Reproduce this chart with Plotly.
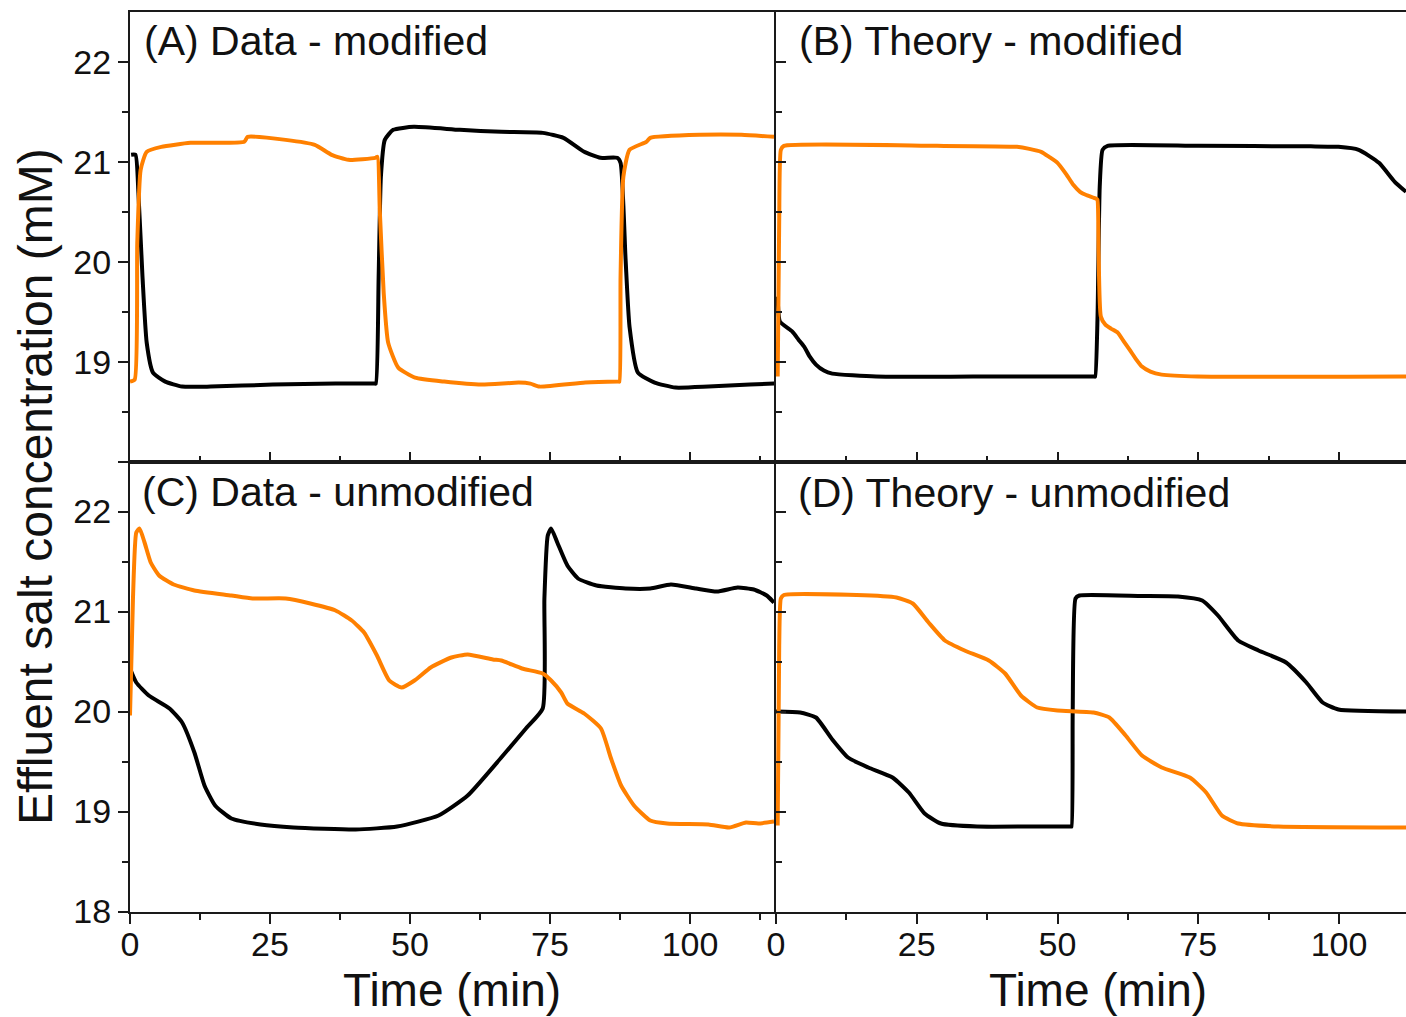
import plotly.graph_objects as go

W, H = 1406, 1017
ORANGE = "#FF8000"
BLACK = "#000000"
AX = "#1a1a1a"
FONT = "Liberation Sans, Arial, sans-serif"

# ---------------- data (time in min, concentration in mM) ----------------
# (A) Data - modified
a_black_t = [0.2, 0.98, 1.5, 2.23, 2.98, 4.1, 6.3, 9.3, 14.4, 25.5, 36.7, 43.6, 43.9, 44.4, 44.8, 45.5,
             47.0, 50.7, 58.9, 66.3, 73.7, 77.4, 81.1, 84.0, 87.0, 87.6, 88.5, 89.2, 90.7, 93.7, 97.4,
             103.3, 110.7, 115.1]
a_black_v = [21.07, 21.07, 20.69, 19.85, 19.19, 18.89, 18.80, 18.75, 18.75, 18.77, 18.78, 18.78, 18.78,
             19.85, 20.85, 21.22, 21.32, 21.35, 21.32, 21.30, 21.29, 21.24, 21.10, 21.04, 21.04, 20.99,
             20.02, 19.35, 18.89, 18.79, 18.74, 18.75, 18.77, 18.78]
a_orange_t = [0.0, 0.84, 1.3, 1.9, 2.98, 5.6, 10.8, 20.4, 21.0, 27.8, 33.0, 36.0, 39.0, 43.8, 44.2, 44.6,
              45.3, 46.1, 47.9, 50.9, 56.1, 62.8, 69.4, 71.5, 73.1, 81.3, 87.2, 87.4, 87.6, 88.1, 89.2,
              92.2, 92.9, 101.8, 109.2, 115.0]
a_orange_v = [18.80, 18.82, 20.19, 20.92, 21.10, 21.15, 21.19, 21.20, 21.25, 21.22, 21.17, 21.07, 21.02,
              21.04, 21.05, 20.52, 19.69, 19.19, 18.94, 18.84, 18.80, 18.77, 18.79, 18.78, 18.75, 18.79,
              18.80, 18.80, 19.85, 20.85, 21.12, 21.20, 21.24, 21.27, 21.27, 21.25]

# (B) Theory - modified
b_black_t = [0.3, 0.7, 2.9, 4.0, 5.0, 6.0, 7.1, 8.5, 10.0, 17.8, 35.0, 55.0, 56.55, 56.7, 57.1, 57.5,
             58.0, 58.9, 75.0, 95.0, 99.9, 103.5, 107.1, 109.9, 111.9]
b_black_v = [19.65, 19.40, 19.30, 19.22, 19.15, 19.05, 18.97, 18.91, 18.88, 18.85, 18.85, 18.85, 18.85,
             18.85, 19.42, 20.75, 21.12, 21.16, 21.16, 21.155, 21.15, 21.12, 20.99, 20.80, 20.70]
b_orange_t = [0.3, 0.57, 0.86, 1.4, 28.6, 42.8, 45.0, 47.1, 48.5, 50.0, 51.5, 52.8, 54.0, 55.0, 56.9,
              57.1, 57.3, 57.7, 58.5, 59.5, 60.7, 61.8, 62.8, 64.0, 65.0, 66.5, 68.5, 74.9, 111.9]
b_orange_v = [18.85, 20.42, 21.12, 21.16, 21.16, 21.15, 21.13, 21.10, 21.05, 20.99, 20.88, 20.77, 20.70,
              20.67, 20.63, 20.62, 20.09, 19.45, 19.37, 19.33, 19.29, 19.20, 19.12, 19.02, 18.95, 18.90,
              18.87, 18.85, 18.85]

# (C) Data - unmodified
c_black_t = [0.0, 1.12, 3.35, 7.05, 9.3, 11.5, 13.3, 15.2, 18.1, 23.3, 29.2, 40.3, 47.7, 55.1, 60.3,
             66.3, 70.7, 73.7, 74.0, 74.6, 75.2, 76.3, 78.1, 80.0, 83.3, 88.5, 92.9, 96.6, 101.1, 104.8,
             108.5, 111.4, 113.7, 115.0]
c_black_v = [20.43, 20.29, 20.16, 20.03, 19.89, 19.59, 19.26, 19.06, 18.93, 18.87, 18.84, 18.82, 18.85,
             18.96, 19.16, 19.54, 19.83, 20.03, 21.13, 21.76, 21.83, 21.69, 21.46, 21.33, 21.26, 21.23,
             21.23, 21.27, 21.23, 21.20, 21.24, 21.22, 21.16, 21.09]
c_orange_t = [0.0, 0.53, 1.12, 1.7, 2.6, 3.7, 5.2, 7.8, 11.5, 18.1, 21.9, 27.8, 32.2, 36.7, 39.6, 41.8,
              44.1, 46.3, 48.5, 50.8, 53.7, 57.4, 60.3, 64.8, 66.3, 70.0, 73.7, 75.2, 77.0, 78.1, 81.1,
              84.1, 85.9, 87.7, 90.0, 92.9, 95.9, 103.3, 107.0, 110.0, 112.2, 115.0]
c_orange_v = [19.96, 21.13, 21.79, 21.83, 21.69, 21.49, 21.36, 21.27, 21.21, 21.16, 21.13, 21.13, 21.08,
              21.01, 20.91, 20.79, 20.56, 20.31, 20.24, 20.31, 20.44, 20.54, 20.57, 20.52, 20.51, 20.43,
              20.38, 20.31, 20.19, 20.08, 19.98, 19.83, 19.53, 19.26, 19.06, 18.91, 18.88, 18.87, 18.84,
              18.89, 18.88, 18.90]

# (D) Theory - unmodified
d_black_t = [0.0, 4.3, 7.1, 10.0, 12.8, 16.4, 20.7, 23.6, 26.4, 29.3, 35.7, 45.0, 52.35, 52.5, 52.7,
             53.2, 53.9, 65.0, 71.4, 75.7, 78.5, 82.1, 85.7, 90.6, 94.2, 97.1, 99.9, 111.9]
d_black_v = [20.0, 19.99, 19.94, 19.72, 19.54, 19.44, 19.34, 19.19, 18.98, 18.88, 18.85, 18.85, 18.85,
             18.85, 19.99, 21.13, 21.16, 21.155, 21.15, 21.11, 20.96, 20.71, 20.61, 20.49, 20.29, 20.09,
             20.02, 20.0]
d_orange_t = [0.3, 0.57, 0.86, 1.4, 14.3, 21.4, 24.3, 27.1, 30.0, 33.5, 37.8, 40.7, 43.5, 46.4, 50.0,
              56.4, 59.2, 62.1, 65.0, 68.5, 73.5, 76.4, 79.2, 82.1, 89.2, 111.9]
d_orange_v = [18.86, 20.66, 21.13, 21.165, 21.165, 21.14, 21.08, 20.89, 20.71, 20.61, 20.51, 20.38, 20.16,
              20.04, 20.01, 19.99, 19.94, 19.76, 19.56, 19.44, 19.34, 19.19, 18.96, 18.88, 18.85, 18.84]

panel_labels = ["(A) Data - modified", "(B) Theory - modified",
                "(C) Data - unmodified", "(D) Theory - unmodified"]
x_title = "Time (min)"
y_title = "Effluent salt concentration (mM)"

x_major = [0, 25, 50, 75, 100]
x_minor = [12.5, 37.5, 62.5, 87.5, 112.5]
y_major = [18, 19, 20, 21, 22]
y_minor = [18.5, 19.5, 20.5, 21.5]


def px(x):
    return x / W


def py(y):
    return 1 - y / H


fig = go.Figure()
series = [
    ("x", "y", a_black_t, a_black_v, a_orange_t, a_orange_v),
    ("x2", "y2", b_black_t, b_black_v, b_orange_t, b_orange_v),
    ("x3", "y3", c_black_t, c_black_v, c_orange_t, c_orange_v),
    ("x4", "y4", d_black_t, d_black_v, d_orange_t, d_orange_v),
]
for xa, ya, bt, bv, ot, ov in series:
    fig.add_trace(go.Scatter(x=bt, y=bv, mode="lines", xaxis=xa, yaxis=ya,
                             line=dict(color=BLACK, width=4, shape="spline", smoothing=0.5),
                             showlegend=False))
    fig.add_trace(go.Scatter(x=ot, y=ov, mode="lines", xaxis=xa, yaxis=ya,
                             line=dict(color=ORANGE, width=4, shape="spline", smoothing=0.5),
                             showlegend=False))

tickfont = dict(family=FONT, size=34, color="#111")
common = dict(showline=True, linecolor=AX, linewidth=2, showgrid=False, zeroline=False,
              tickcolor=AX, tickwidth=2, ticklen=10, tickfont=tickfont, automargin=False)


def xaxis(domain, rng, anchor, ticks, labels):
    return dict(common, domain=domain, range=rng, anchor=anchor, mirror=True,
                tickmode="array", tickvals=x_major, ticks=ticks, showticklabels=labels,
                ticklabelstandoff=-8,
                minor=dict(tickmode="array", tickvals=x_minor, ticks=ticks, ticklen=6,
                           tickwidth=2, tickcolor=AX))


def yaxis(domain, anchor, ticks, labels, mirror, ticktext):
    return dict(common, domain=domain, range=[18, 22.5], anchor=anchor, mirror=mirror,
                tickmode="array", tickvals=y_major, ticktext=ticktext, ticks=ticks,
                showticklabels=labels,
                minor=dict(tickmode="array", tickvals=y_minor, ticks=ticks, ticklen=6,
                           tickwidth=2, tickcolor=AX))


left_dom = [px(130), px(774)]
right_dom = [px(776), 1.0]
top_dom = [py(461.5), py(12)]
bot_dom = [py(911.5), py(461.5)]
left_rng = [0, (774 - 130) / 5.6]
right_rng = [0, (1406 - 776) / 5.63]

fig.update_layout(
    width=W, height=H, margin=dict(l=0, r=0, t=0, b=0, autoexpand=False),
    paper_bgcolor="white", plot_bgcolor="white",
    xaxis=xaxis(left_dom, left_rng, "y", "inside", False),
    yaxis=yaxis(top_dom, "x", "outside", True, True, ["", "19", "20", "21", "22"]),
    xaxis2=xaxis(right_dom, right_rng, "y2", "inside", False),
    yaxis2=yaxis(top_dom, "x2", "inside", False, False, None),
    xaxis3=xaxis(left_dom, left_rng, "y3", "outside", True),
    yaxis3=yaxis(bot_dom, "x3", "outside", True, True, ["18", "19", "20", "21", "22"]),
    xaxis4=xaxis(right_dom, right_rng, "y4", "outside", True),
    yaxis4=yaxis(bot_dom, "x4", "inside", False, False, None),
)

label_font = dict(family=FONT, size=41, color="#111")
label_pos = [(142, 41), (797, 41), (140, 492), (796, 493)]
for text, (lx, ly) in zip(panel_labels, label_pos):
    fig.add_annotation(text=text, x=px(lx), y=py(ly), xref="paper", yref="paper",
                       xanchor="left", yanchor="middle", showarrow=False, font=label_font)

title_font = dict(family=FONT, size=46, color="#111")
fig.add_annotation(text=x_title, x=px(452), y=py(990), xref="paper", yref="paper",
                   xanchor="center", yanchor="middle", showarrow=False, font=title_font)
fig.add_annotation(text=x_title, x=px(1098), y=py(990), xref="paper", yref="paper",
                   xanchor="center", yanchor="middle", showarrow=False, font=title_font)
fig.add_annotation(text=y_title, x=px(35), y=py(487), xref="paper", yref="paper",
                   xanchor="center", yanchor="middle", textangle=-90, showarrow=False,
                   font=dict(family=FONT, size=48, color="#111"))

fig.write_html("out.html")
